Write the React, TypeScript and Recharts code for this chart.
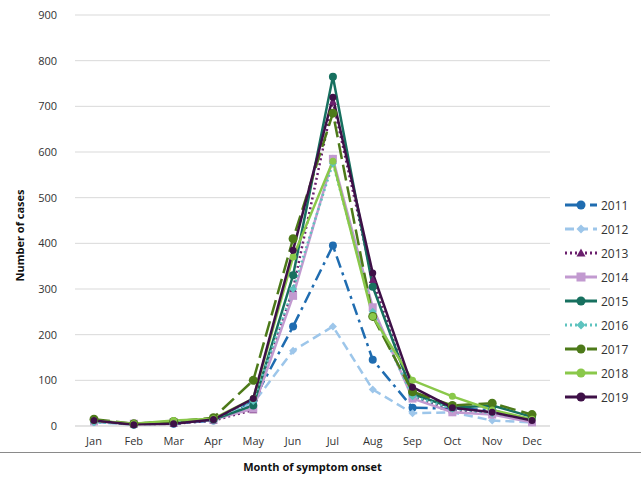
import React from "react";
import { LineChart, Line, XAxis, YAxis, CartesianGrid, Legend } from "recharts";

const months = ["Jan", "Feb", "Mar", "Apr", "May", "Jun", "Jul", "Aug", "Sep", "Oct", "Nov", "Dec"];
const yTicks = [0, 100, 200, 300, 400, 500, 600, 700, 800, 900];

const cases2011 = [10, 3, 5, 12, 55, 218, 395, 145, 40, 38, 35, 12];
const cases2012 = [8, 4, 6, 13, 50, 165, 218, 80, 28, 30, 12, 8];
const cases2013 = [12, 3, 5, 12, 35, 300, 710, 320, 65, 35, 30, 10];
const cases2014 = [10, 5, 8, 14, 38, 285, 585, 260, 60, 30, 25, 8];
const cases2015 = [12, 4, 7, 14, 45, 330, 765, 305, 70, 40, 45, 20];
const cases2016 = [8, 5, 10, 15, 55, 300, 575, 250, 65, 38, 28, 15];
const cases2017 = [15, 5, 10, 18, 100, 410, 685, 240, 75, 45, 50, 25];
const cases2018 = [12, 5, 12, 16, 60, 370, 580, 240, 100, 65, 35, 15];
const cases2019 = [12, 3, 5, 14, 60, 385, 720, 335, 85, 40, 30, 12];

type Shape = "circle" | "diamond" | "triangle" | "square";

const series = [
  { key: "2011", values: cases2011, color: "#1f6cb0", dash: "12 5 3 5", shape: "circle" as Shape, r: 4 },
  { key: "2012", values: cases2012, color: "#9dc6ea", dash: "9 5", shape: "diamond" as Shape, r: 4 },
  { key: "2013", values: cases2013, color: "#6a1f6d", dash: "2 3", shape: "triangle" as Shape, r: 4 },
  { key: "2014", values: cases2014, color: "#c29ad0", dash: "", shape: "square" as Shape, r: 4 },
  { key: "2015", values: cases2015, color: "#17705f", dash: "", shape: "circle" as Shape, r: 4 },
  { key: "2016", values: cases2016, color: "#5ec3bf", dash: "2 3", shape: "diamond" as Shape, r: 4 },
  { key: "2017", values: cases2017, color: "#4d7a19", dash: "16 6", shape: "circle" as Shape, r: 4.5 },
  { key: "2018", values: cases2018, color: "#8ac84a", dash: "", shape: "circle" as Shape, r: 3.5 },
  { key: "2019", values: cases2019, color: "#3e1047", dash: "", shape: "circle" as Shape, r: 3.5 },
];

const data = months.map((m, i) => {
  const row: Record<string, string | number> = { month: m };
  series.forEach((s) => {
    row[s.key] = s.values[i];
  });
  return row;
});

function Marker({ cx, cy, shape, r, color }: { cx: number; cy: number; shape: Shape; r: number; color: string }) {
  if (shape === "diamond") {
    return <polygon points={`${cx},${cy - r} ${cx + r},${cy} ${cx},${cy + r} ${cx - r},${cy}`} fill={color} />;
  }
  if (shape === "triangle") {
    return <polygon points={`${cx},${cy - r} ${cx + r},${cy + r * 0.8} ${cx - r},${cy + r * 0.8}`} fill={color} />;
  }
  if (shape === "square") {
    return <rect x={cx - r} y={cy - r} width={r * 2} height={r * 2} fill={color} />;
  }
  return <circle cx={cx} cy={cy} r={r} fill={color} />;
}

function renderLegend() {
  return (
    <div style={{ fontFamily: "Open Sans", fontSize: 12, color: "#333" }}>
      {series.map((s) => (
        <div key={s.key} style={{ display: "flex", alignItems: "center", height: 24 }}>
          <svg width={34} height={12}>
            <line x1={1} y1={6} x2={33} y2={6} stroke={s.color} strokeWidth={3} strokeDasharray={s.dash || undefined} />
            <Marker cx={17} cy={6} shape={s.shape} r={4.5} color={s.color} />
          </svg>
          <span style={{ marginLeft: 3 }}>{s.key}</span>
        </div>
      ))}
    </div>
  );
}

export default function App() {
  return (
    <div style={{ position: "absolute", left: 0, top: 0, width: 641, height: 482, background: "#fff" }}>
      <LineChart width={641} height={482} data={data} margin={{ top: 15, right: 91, left: 0, bottom: 11 }}>
        <CartesianGrid vertical={false} stroke="#d9d9d9" />
        <XAxis
          dataKey="month"
          tickLine={false}
          axisLine={{ stroke: "#d9d9d9" }}
          padding={{ left: 19, right: 18 }}
          tickMargin={5}
          tick={{ fontFamily: "Open Sans", fontSize: 11, fill: "#333" }}
          height={45}
          label={{ value: "Month of symptom onset", position: "insideBottom", offset: 0, style: { fontFamily: "Open Sans", fontSize: 11, fontWeight: 700, fill: "#111" } }}
        />
        <YAxis
          width={75}
          domain={[0, 900]}
          ticks={yTicks}
          tickLine={false}
          axisLine={false}
          tickMargin={12}
          tick={{ fontFamily: "Open Sans", fontSize: 11, fill: "#333" }}
          label={{ value: "Number of cases", angle: -90, position: "insideLeft", offset: 20, dy: 15, style: { textAnchor: "middle", fontFamily: "Open Sans", fontSize: 11, fontWeight: 700, fill: "#111" } }}
        />
        <Legend
          layout="horizontal"
          align="center"
          verticalAlign="top"
          height={0}
          content={renderLegend}
          wrapperStyle={{ left: 564, top: 193, width: 77, height: 0, overflow: "visible" }}
        />
        {series.map((s) => (
          <Line
            key={s.key}
            dataKey={s.key}
            stroke={s.color}
            strokeWidth={2.5}
            strokeDasharray={s.dash || undefined}
            isAnimationActive={false}
            dot={(p: any) => <Marker key={`${s.key}-${p.index}`} cx={p.cx} cy={p.cy} shape={s.shape} r={s.r} color={s.color} />}
            activeDot={false}
          />
        ))}
      </LineChart>
      <div style={{ position: "absolute", left: 0, top: 452, width: 641, height: 1, background: "#8a8a8a" }} />
    </div>
  );
}
